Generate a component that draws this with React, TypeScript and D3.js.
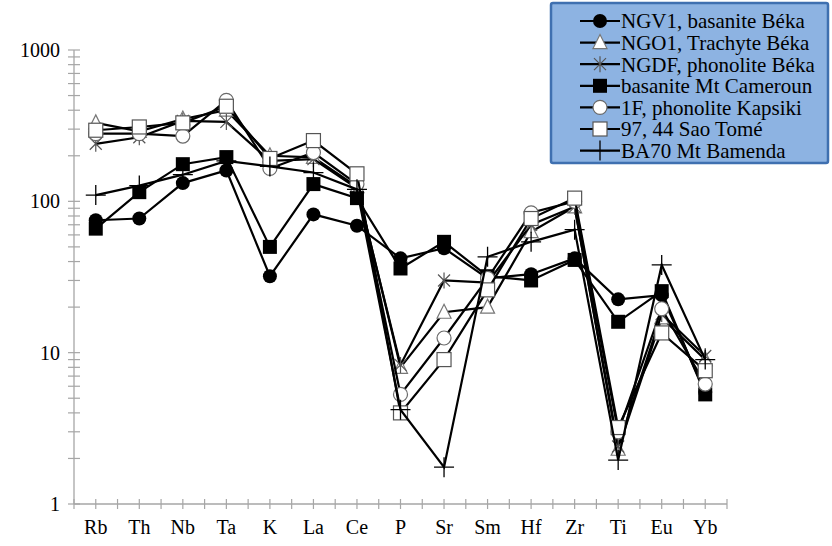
import React, { useEffect, useRef } from 'react';
import * as d3 from 'd3';

// spider diagram, normalised values (log scale)
const categories = ['Rb', 'Th', 'Nb', 'Ta', 'K', 'La', 'Ce', 'P', 'Sr', 'Sm', 'Hf', 'Zr', 'Ti', 'Eu', 'Yb'];

const ngv1 = [75, 77, 132, 160, 32, 82, 69, 42, 49, 31, 33, 42, 22.5, 24, 5.5];
const ngo1 = [330, 290, 350, 400, 200, 195, 125, 8.0, 18.5, 20, 63, 92, 2.3, 17, 9];
const ngdf = [240, 265, 340, 335, 185, 190, 122, 8.3, 30, 29, 70, 92, 2.4, 18, 9.5];
const cameroun = [66, 115, 176, 196, 50, 130, 105, 36, 54, 32, 30, 41, 16, 25.5, 5.3];
const kapsiki = [280, 280, 270, 465, 165, 210, 130, 5.3, 12.5, 31, 84, 100, 3.0, 19.5, 6.2];
const saoTome = [295, 310, 330, 425, 192, 252, 152, 4.0, 9, 26, 77, 105, 3.2, 13.5, 7.6];
const ba70 = [110, 127, 150, 185, 170, 155, 120, 4.2, 1.75, 43, 54, 65, 1.95, 38, 9];

const seriesNames = [
  'NGV1, basanite Béka',
  'NGO1, Trachyte Béka',
  'NGDF, phonolite Béka',
  'basanite Mt Cameroun',
  '1F, phonolite Kapsiki',
  '97, 44 Sao Tomé',
  'BA70 Mt Bamenda',
];
const seriesValues = [ngv1, ngo1, ngdf, cameroun, kapsiki, saoTome, ba70];
const markerTypes = ['dot', 'triangle', 'star', 'square', 'circle', 'box', 'plus'];

const yTickLabels = ['1', '10', '100', '1000'];

const FONT = '"Liberation Serif", "Times New Roman", serif';

const drawMarker = (g, type, x, y) => {
  const m = g.append('g').attr('transform', `translate(${x},${y})`);
  if (type === 'dot') {
    m.append('circle').attr('r', 7).attr('fill', '#000');
  } else if (type === 'circle') {
    m.append('circle').attr('r', 7).attr('fill', '#fff').attr('stroke', '#6a6a6a').attr('stroke-width', 1.2);
  } else if (type === 'square') {
    m.append('rect').attr('x', -7).attr('y', -7).attr('width', 14).attr('height', 14).attr('fill', '#000');
  } else if (type === 'box') {
    m.append('rect').attr('x', -7).attr('y', -7).attr('width', 14).attr('height', 14)
      .attr('fill', '#fff').attr('stroke', '#555').attr('stroke-width', 1.2);
  } else if (type === 'triangle') {
    m.append('path').attr('d', 'M0,-8L7,6L-7,6Z').attr('fill', '#fff').attr('stroke', '#777').attr('stroke-width', 1.2);
  } else if (type === 'star') {
    m.append('path').attr('d', 'M-6,-6L6,6M-6,6L6,-6M0,-8L0,8').attr('stroke', '#555').attr('stroke-width', 1.2);
  } else if (type === 'plus') {
    m.append('path').attr('d', 'M-10,0L10,0M0,-10L0,10').attr('stroke', '#000').attr('stroke-width', 1.3);
  }
};

const App = () => {
  const ref = useRef(null);

  useEffect(() => {
    const svg = d3.select(ref.current);
    svg.selectAll('*').remove();

    const left = 74, right = 727, top = 50, bottom = 504;

    const x = d3.scalePoint().domain(categories).range([left, right]).padding(0.5);
    const band = (right - left) / categories.length;
    const y = d3.scaleLog().domain([1, 1000]).range([bottom, top]);

    const axisColor = '#a6a6a6';

    // y axis with crossing ticks
    svg.append('line').attr('x1', left).attr('x2', left).attr('y1', top).attr('y2', bottom)
      .attr('stroke', axisColor).attr('stroke-width', 1.3);
    const yTicks = [];
    for (let d = 1; d < 1000; d *= 10) {
      for (let k = 1; k < 10; k++) yTicks.push(d * k);
    }
    yTicks.push(1000);
    svg.selectAll('.ytick').data(yTicks).enter().append('line')
      .attr('x1', left - 6).attr('x2', left + 6)
      .attr('y1', d => y(d)).attr('y2', d => y(d))
      .attr('stroke', axisColor).attr('stroke-width', 1.2);
    svg.selectAll('.ylab').data(yTickLabels).enter().append('text')
      .attr('x', left - 14).attr('y', d => y(+d))
      .attr('dy', '0.35em').attr('text-anchor', 'end')
      .attr('font-family', FONT).attr('font-size', 20).attr('fill', '#000')
      .text(d => d);

    // x axis
    svg.append('line').attr('x1', left).attr('x2', right).attr('y1', bottom).attr('y2', bottom)
      .attr('stroke', axisColor).attr('stroke-width', 1.3);
    const xTicks = d3.range(0, categories.length * 2 + 1).map(i => left + (i * band) / 2);
    svg.selectAll('.xtick').data(xTicks).enter().append('line')
      .attr('x1', d => d).attr('x2', d => d)
      .attr('y1', bottom - 5).attr('y2', bottom + 5)
      .attr('stroke', axisColor).attr('stroke-width', 1.2);
    svg.selectAll('.xlab').data(categories).enter().append('text')
      .attr('x', d => x(d)).attr('y', 534)
      .attr('text-anchor', 'middle')
      .attr('font-family', FONT).attr('font-size', 20).attr('fill', '#000')
      .text(d => d);

    // series
    const line = d3.line().x((d, i) => x(categories[i])).y(d => y(d));
    seriesValues.forEach((vals, s) => {
      const g = svg.append('g');
      g.append('path').datum(vals).attr('d', line)
        .attr('fill', 'none').attr('stroke', '#000').attr('stroke-width', 2.2);
      vals.forEach((v, i) => drawMarker(g, markerTypes[s], x(categories[i]), y(v)));
    });

    // legend
    const lg = svg.append('g');
    lg.append('rect').attr('x', 551).attr('y', 3).attr('width', 277).attr('height', 160)
      .attr('fill', '#8db3e2').attr('stroke', '#3f70b0').attr('stroke-width', 2.5).attr('rx', 2);
    seriesNames.forEach((name, i) => {
      const cy = 21 + i * 21.6;
      lg.append('line').attr('x1', 580).attr('x2', 620).attr('y1', cy).attr('y2', cy)
        .attr('stroke', '#000').attr('stroke-width', 2.2);
      drawMarker(lg, markerTypes[i], 600, cy);
      lg.append('text').attr('x', 621).attr('y', cy).attr('dy', '0.35em')
        .attr('font-family', FONT).attr('font-size', 21).attr('fill', '#000')
        .text(name);
    });
  }, []);

  return (
    <svg ref={ref} width={832} height={546}
      style={{ position: 'absolute', left: 0, top: 0, background: '#fff' }} />
  );
};

export default App;
